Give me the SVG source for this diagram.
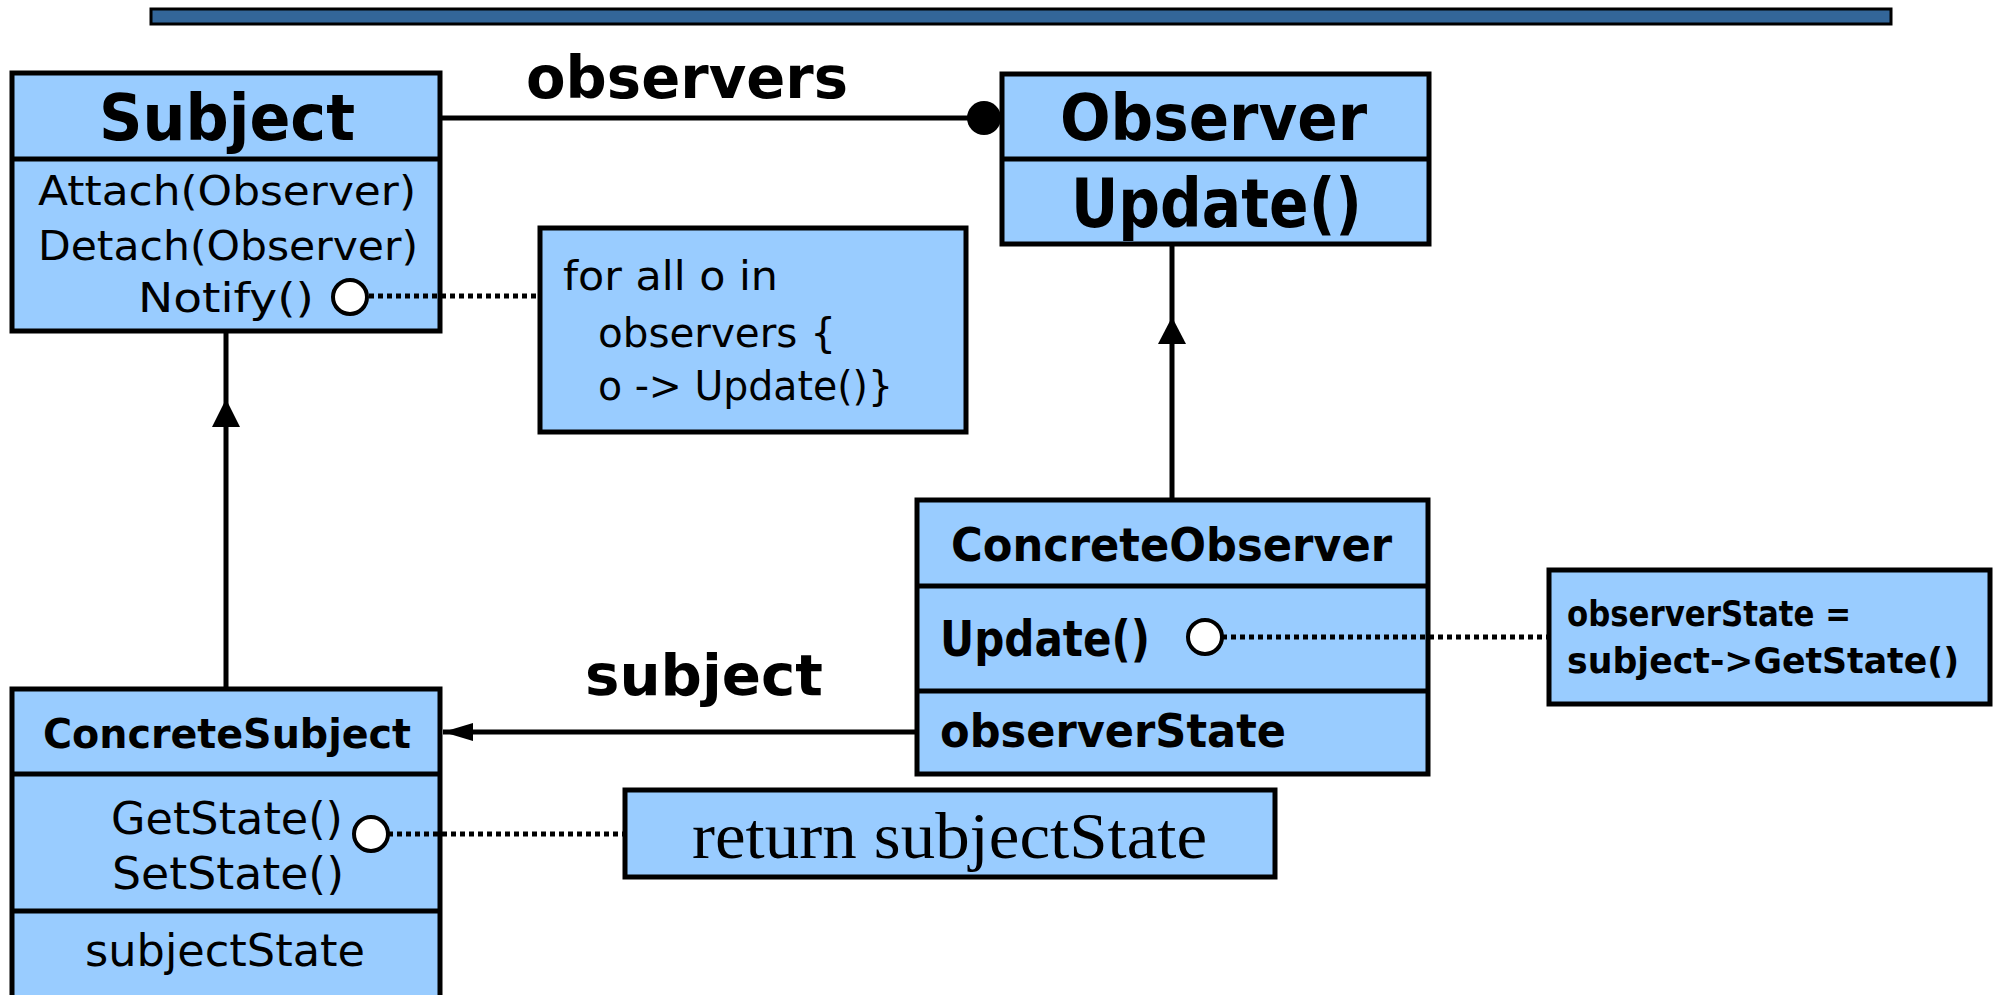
<svg xmlns="http://www.w3.org/2000/svg" width="1999" height="995" viewBox="0 0 1999 995">
<style>
.box{fill:#99CCFF;stroke:#000;stroke-width:5}
.dv{stroke:#000;stroke-width:5}
.t{font-family:'DejaVu Sans','Liberation Sans',sans-serif;fill:#000}
.b{font-weight:bold}
.conn{stroke:#000;stroke-width:5;fill:none}
.dot{stroke:#000;stroke-width:5;stroke-dasharray:5 4;fill:none}
.port{fill:#fff;stroke:#000;stroke-width:4}
</style>
<defs>
<marker id="nav" markerUnits="userSpaceOnUse" viewBox="0 0 30 18" markerWidth="30" markerHeight="18" refX="30" refY="9" orient="auto">
<path d="M0,0 L30,9 L0,18 z" fill="#000"/>
</marker>
</defs>

<rect id="topbar" x="151" y="9" width="1740" height="15" fill="#336699" stroke="#000" stroke-width="3"/>

<g id="subject">
<rect class="box" x="12" y="73" width="428" height="258"/>
<line class="dv" x1="12" y1="159" x2="440" y2="159"/>
<text class="t b" x="99" y="140" font-size="64" textLength="256" lengthAdjust="spacingAndGlyphs">Subject</text>
<text class="t" x="38" y="205" font-size="40" textLength="378" lengthAdjust="spacingAndGlyphs">Attach(Observer)</text>
<text class="t" x="38" y="260" font-size="40" textLength="380" lengthAdjust="spacingAndGlyphs">Detach(Observer)</text>
<text class="t" x="138" y="312" font-size="40" textLength="176" lengthAdjust="spacingAndGlyphs">Notify()</text>
</g>

<g id="note-notify">
<rect class="box" x="540" y="228" width="426" height="204"/>
<text class="t" x="563" y="290" font-size="40" textLength="215" lengthAdjust="spacingAndGlyphs">for all o in</text>
<text class="t" x="598" y="347" font-size="40" textLength="238" lengthAdjust="spacingAndGlyphs">observers {</text>
<text class="t" x="598" y="400" font-size="40" textLength="295" lengthAdjust="spacingAndGlyphs">o -&gt; Update()}</text>
</g>

<g id="observer">
<rect class="box" x="1002" y="74" width="427" height="170"/>
<line class="dv" x1="1002" y1="159" x2="1429" y2="159"/>
<text class="t b" x="1060" y="140" font-size="64" textLength="307" lengthAdjust="spacingAndGlyphs">Observer</text>
<text class="t b" x="1071" y="227" font-size="68" textLength="291" lengthAdjust="spacingAndGlyphs">Update()</text>
</g>

<g id="concrete-observer">
<rect class="box" x="917" y="500" width="511" height="274"/>
<line class="dv" x1="917" y1="586" x2="1428" y2="586"/>
<line class="dv" x1="917" y1="691" x2="1428" y2="691"/>
<text class="t b" x="951" y="561" font-size="46" textLength="441" lengthAdjust="spacingAndGlyphs">ConcreteObserver</text>
<text class="t b" x="940" y="656" font-size="50" textLength="210" lengthAdjust="spacingAndGlyphs">Update()</text>
<text class="t b" x="940" y="747" font-size="46" textLength="346" lengthAdjust="spacingAndGlyphs">observerState</text>
</g>

<g id="note-update">
<rect class="box" x="1549" y="570" width="441" height="134"/>
<text class="t b" x="1567" y="626" font-size="36" textLength="284" lengthAdjust="spacingAndGlyphs">observerState  =</text>
<text class="t b" x="1567" y="673" font-size="36" textLength="392" lengthAdjust="spacingAndGlyphs">subject-&gt;GetState()</text>
</g>

<g id="concrete-subject">
<rect class="box" x="12" y="689" width="428" height="320"/>
<line class="dv" x1="12" y1="774" x2="440" y2="774"/>
<line class="dv" x1="12" y1="911" x2="440" y2="911"/>
<text class="t b" x="43" y="748" font-size="40" textLength="368" lengthAdjust="spacingAndGlyphs">ConcreteSubject</text>
<text class="t" x="111" y="834" font-size="44" textLength="232" lengthAdjust="spacingAndGlyphs">GetState()</text>
<text class="t" x="112" y="889" font-size="44" textLength="232" lengthAdjust="spacingAndGlyphs">SetState()</text>
<text class="t" x="85" y="966" font-size="44" textLength="280" lengthAdjust="spacingAndGlyphs">subjectState</text>
</g>

<g id="note-return">
<rect class="box" x="625" y="790" width="650" height="87"/>
<text x="692" y="858" font-family="'Liberation Serif',serif" font-size="66" textLength="515" lengthAdjust="spacingAndGlyphs">return subjectState</text>
</g>

<g id="connectors">
<line class="conn" x1="440" y1="118" x2="980" y2="118"/>
<circle cx="984" cy="118" r="17" fill="#000"/>
<line class="conn" x1="226" y1="689" x2="226" y2="331"/>
<path d="M212,427 L226,399 L240,427 z" fill="#000"/>
<line class="conn" x1="1172" y1="500" x2="1172" y2="244"/>
<path d="M1158,344 L1172,317 L1186,344 z" fill="#000"/>
<line class="conn" x1="917" y1="732" x2="443" y2="732" marker-end="url(#nav)"/>
<line class="dot" x1="369" y1="296" x2="540" y2="296"/>
<line class="dot" x1="1222" y1="637" x2="1549" y2="637"/>
<line class="dot" x1="388" y1="834" x2="625" y2="834"/>
<circle class="port" cx="350" cy="297" r="17"/>
<circle class="port" cx="1205" cy="637" r="17"/>
<circle class="port" cx="371" cy="834" r="17"/>
<text class="t b" x="526" y="98" font-size="58" textLength="322" lengthAdjust="spacingAndGlyphs">observers</text>
<text class="t b" x="585" y="695" font-size="57" textLength="238" lengthAdjust="spacingAndGlyphs">subject</text>
</g>
</svg>
